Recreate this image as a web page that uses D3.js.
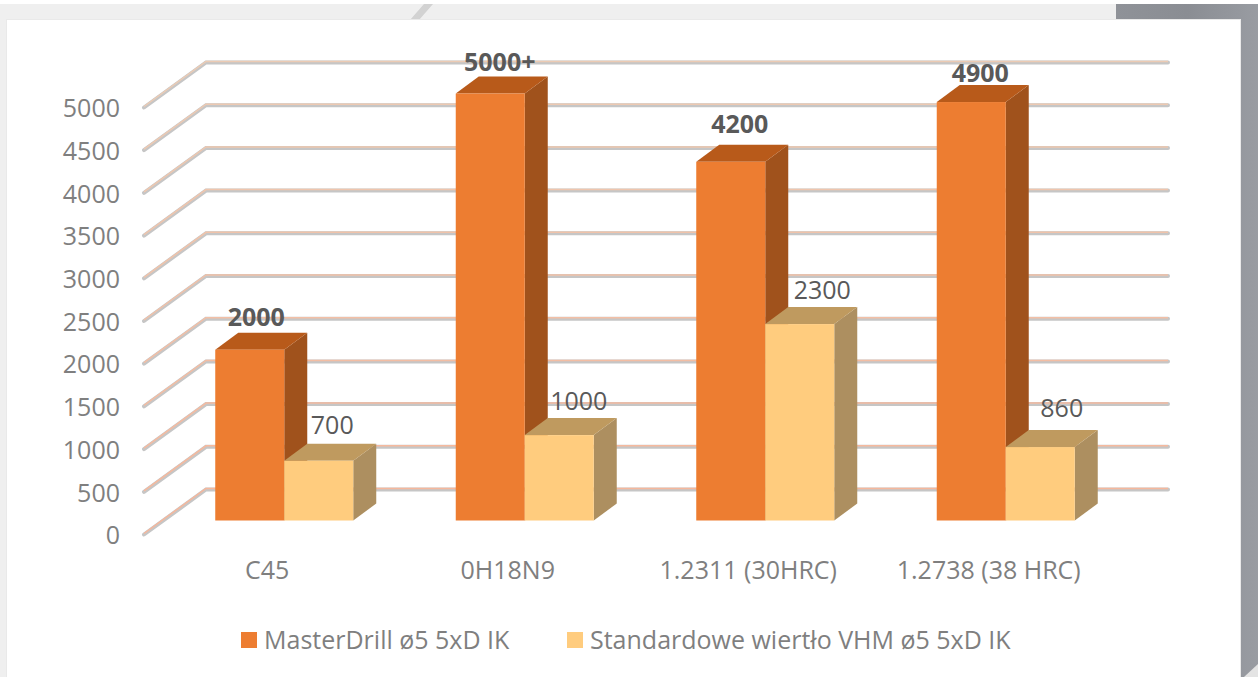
<!DOCTYPE html>
<html>
<head>
<meta charset="utf-8">
<script src="https://cdn.jsdelivr.net/npm/d3@7/dist/d3.min.js"></script>
<style>
  html, body { margin: 0; padding: 0; background: #fff; }
  svg { display: block; }
  text { font-family: "Open Sans", sans-serif; }
</style>
</head>
<body>
<svg width="1258" height="677"></svg>
<script>
var categories = ["C45", "0H18N9", "1.2311 (30HRC)", "1.2738 (38 HRC)"];
var seriesNames = ["MasterDrill ø5 5xD IK", "Standardowe wiertło VHM ø5 5xD IK"];
var masterDrill = [2000, 5000, 4200, 4900];
var standardDrill = [700, 1000, 2300, 860];
var masterLabels = ["2000", "5000+", "4200", "4900"];
var standardLabels = ["700", "1000", "2300", "860"];
var yTicks = [0, 500, 1000, 1500, 2000, 2500, 3000, 3500, 4000, 4500, 5000];

var svg = d3.select("svg");
var width = +svg.attr("width");
var height = +svg.attr("height");

var defs = svg.append("defs");
defs.append("filter").attr("id", "soft").append("feGaussianBlur").attr("stdDeviation", 0.6);
var dark = defs.append("linearGradient").attr("id", "darkStrip");
dark.append("stop").attr("offset", 0).attr("stop-color", "#8f9298");
dark.append("stop").attr("offset", 0.5).attr("stop-color", "#8a8d93");
dark.append("stop").attr("offset", 1).attr("stop-color", "#999ca2");

// picture frame behind the chart
svg.append("rect").attr("width", width).attr("height", height).attr("fill", "#efefef");
svg.append("rect").attr("x", 1116).attr("y", 4).attr("width", 142).attr("height", 673).attr("fill", "url(#darkStrip)");
svg.append("rect").attr("x", 0).attr("y", 0).attr("width", width).attr("height", 4).attr("fill", "#fff");
svg.append("path").attr("d", "M410,20L424,4H433L419,20Z").attr("fill", "#d2d2d2").attr("filter", "url(#soft)");
svg.append("path").attr("d", "M1244,677L1258,664V677Z").attr("fill", "#e4e4e4").attr("filter", "url(#soft)");
svg.append("rect").attr("x", 6).attr("y", 19).attr("width", 1235).attr("height", 658).attr("fill", "#e9e9e9");
svg.append("rect").attr("x", 7).attr("y", 20).attr("width", 1233).attr("height", 657).attr("fill", "#fff");

// y is the back wall, the floor comes forward by these offsets
var y = d3.scaleLinear().domain([0, 5000]).range([489.5, 62.5]);
var wallX = 206, wallEnd = 1168;
var floorDx = -62, floorDy = 45;
var barDx = 23, barDy = -17;
var baseShift = 31;

var x0 = d3.scaleBand().domain(categories).range([164, 1126]);
var x1 = d3.scaleBand().domain(seriesNames).range([0, 138]);
var catStart = function (c) { return x0(c) + x0.bandwidth() / 2 - 69; };

var seriesColors = [
  { front: "#ed7d31", top: "#b85a1a", side: "#a0521c" },
  { front: "#ffcc7e", top: "#bf9a5f", side: "#ad8f60" }
];

// label nudges, the source picture places each one by hand
var masterNudge = [[6.5, -24], [9.5, -23], [9, -29], [9, -20]];
var standardNudge = [[13.5, -27], [19.5, -25], [22.5, -25], [21.5, -30]];

// grid lines, grey with a thin orange edge, orange gets stronger near the floor
var grid = svg.append("g").attr("filter", "url(#soft)");
var edgeColor = d3.scaleLinear().domain([0, 5000]).range(["#f6b79c", "#eccbb4"]);
yTicks.forEach(function (t) {
  var pts = [[wallX + floorDx, y(t) + floorDy], [wallX, y(t)], [wallEnd, y(t)]];
  var line = d3.line();
  grid.append("path").attr("d", line(pts)).attr("fill", "none")
    .attr("stroke", "#c6c6c6").attr("stroke-width", 4).attr("stroke-linecap", "round");
  grid.append("path").attr("d", line(pts)).attr("fill", "none")
    .attr("stroke", edgeColor(t)).attr("stroke-width", 1.5)
    .attr("transform", "translate(0,-1)");
});

// y labels
svg.append("g").selectAll("text").data(yTicks).enter().append("text")
  .attr("x", 120)
  .attr("y", function (d) { return y(d) + floorDy + 1; })
  .attr("dy", "0.35em")
  .attr("text-anchor", "end")
  .attr("font-size", 25)
  .attr("fill", "#7f7f7f")
  .text(function (d) { return d; });

// bars, one group per series
var drawSeries = function (values, i, labels) {
  var name = seriesNames[i];
  var col = seriesColors[i];
  var g = svg.append("g");
  var rows = categories.map(function (c, j) {
    return { x: catStart(c) + x1(name), w: x1.bandwidth(), base: y(0) + baseShift, top: y(values[j]) + baseShift, label: labels[j] };
  });
  g.selectAll(".side").data(rows).enter().append("path")
    .attr("fill", col.side)
    .attr("d", function (d) {
      return d3.line()([[d.x + d.w, d.top], [d.x + d.w + barDx, d.top + barDy], [d.x + d.w + barDx, d.base + barDy], [d.x + d.w, d.base]]) + "Z";
    });
  g.selectAll(".top").data(rows).enter().append("path")
    .attr("fill", col.top)
    .attr("d", function (d) {
      return d3.line()([[d.x, d.top], [d.x + barDx, d.top + barDy], [d.x + d.w + barDx, d.top + barDy], [d.x + d.w, d.top]]) + "Z";
    });
  g.selectAll(".front").data(rows).enter().append("rect")
    .attr("x", function (d) { return d.x; })
    .attr("y", function (d) { return d.top; })
    .attr("width", function (d) { return d.w; })
    .attr("height", function (d) { return d.base - d.top; })
    .attr("fill", col.front);
  return rows;
};

var rowsA = drawSeries(masterDrill, 0, masterLabels);
var rowsB = drawSeries(standardDrill, 1, standardLabels);

// data labels
svg.append("g").selectAll("text").data(rowsA).enter().append("text")
  .attr("x", function (d, i) { return d.x + d.w / 2 + masterNudge[i][0]; })
  .attr("y", function (d, i) { return d.top + masterNudge[i][1]; })
  .attr("text-anchor", "middle")
  .attr("font-size", 25)
  .attr("font-weight", 700)
  .attr("fill", "#595959")
  .text(function (d) { return d.label; });

svg.append("g").selectAll("text").data(rowsB).enter().append("text")
  .attr("x", function (d, i) { return d.x + d.w / 2 + standardNudge[i][0]; })
  .attr("y", function (d, i) { return d.top + standardNudge[i][1]; })
  .attr("text-anchor", "middle")
  .attr("font-size", 25)
  .attr("fill", "#595959")
  .text(function (d) { return d.label; });

// category labels
svg.append("g").selectAll("text").data(categories).enter().append("text")
  .attr("x", function (d) { return x0(d) + x0.bandwidth() / 2 - 17; })
  .attr("y", 579)
  .attr("text-anchor", "middle")
  .attr("font-size", 25)
  .attr("fill", "#7f7f7f")
  .text(function (d) { return d; });

// legend
var legendX = [241, 567];
var legend = svg.append("g");
seriesNames.forEach(function (n, i) {
  legend.append("rect").attr("x", legendX[i]).attr("y", 632).attr("width", 16).attr("height", 16)
    .attr("fill", seriesColors[i].front);
  legend.append("text").attr("x", legendX[i] + 23).attr("y", 649)
    .attr("font-size", 25).attr("fill", "#7f7f7f").text(n);
});
</script>
</body>
</html>
